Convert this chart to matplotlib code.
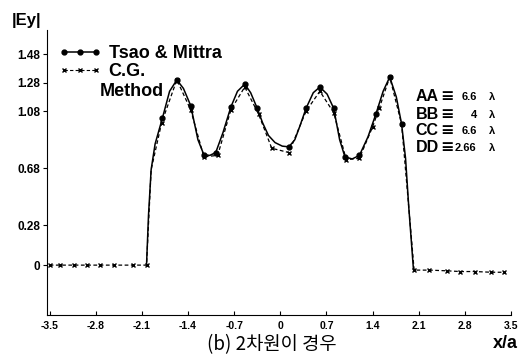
import matplotlib
matplotlib.use("Agg")
import matplotlib.pyplot as plt

plt.rcParams['font.family'] = ['Liberation Sans', 'DejaVu Sans']

# solid curve (Tsao & Mittra)
curva_x = [-2.03, -2.0, -1.96, -1.9, -1.79, -1.68, -1.57, -1.47, -1.36, -1.25, -1.16, -1.07,
           -0.98, -0.87, -0.75, -0.65, -0.54, -0.45, -0.35, -0.27, -0.18, -0.08, 0.03, 0.13,
           0.22, 0.3, 0.39, 0.5, 0.6, 0.71, 0.81, 0.9, 0.98, 1.09, 1.2, 1.33, 1.45, 1.56,
           1.66, 1.76, 1.84, 1.9, 1.95, 2.02]
curva_y = [0.0, 0.35, 0.67, 0.85, 1.03, 1.22, 1.30, 1.24, 1.12, 0.88, 0.775, 0.77,
           0.79, 0.93, 1.11, 1.22, 1.27, 1.21, 1.10, 1.0, 0.91, 0.86, 0.835, 0.83,
           0.88, 0.98, 1.10, 1.21, 1.25, 1.20, 1.10, 0.88, 0.76, 0.745, 0.77, 0.90, 1.06, 1.22,
           1.32, 1.18, 0.99, 0.75, 0.40, -0.03]
# puntos Tsao & Mittra
tsao_x = [-1.79, -1.57, -1.36, -1.16, -0.98, -0.75, -0.54, -0.35, 0.13, 0.39, 0.6, 0.81,
          0.98, 1.2, 1.45, 1.66, 1.84]
tsao_y = [1.03, 1.30, 1.12, 0.775, 0.79, 1.11, 1.27, 1.10, 0.83, 1.10, 1.25, 1.10,
          0.76, 0.77, 1.06, 1.32, 0.99]
# C.G. Method
cg_x = [-3.5, -3.34, -3.13, -2.94, -2.73, -2.52, -2.24, -2.03, -2.03, -1.96, -1.8, -1.57,
        -1.36, -1.16, -0.95, -0.75, -0.54, -0.33, -0.13, 0.13, 0.39, 0.6, 0.81, 1.0, 1.2,
        1.4, 1.5, 1.66, 1.84, 1.95, 2.03, 2.26, 2.53, 2.73, 2.95, 3.2, 3.39]
cg_y = [0.0, 0.0, 0.0, 0.0, 0.0, 0.0, 0.0, 0.0, 0.0, 0.67, 1.0, 1.30,
        1.09, 0.76, 0.77, 1.09, 1.25, 1.06, 0.82, 0.79, 1.08, 1.22, 1.07, 0.74, 0.75,
        0.97, 1.10, 1.32, 0.99, 0.40, -0.035, -0.035, -0.04, -0.045, -0.045, -0.05, -0.05]
cg_marca = [0, 1, 2, 3, 4, 5, 6, 7, 10, 11, 12, 13, 14, 15, 16, 17, 18, 19, 20, 21,
            22, 23, 24, 25, 26, 27, 28, 30, 31, 32, 33, 34, 35, 36]

xticks = [-3.5, -2.8, -2.1, -1.4, -0.7, 0, 0.7, 1.4, 2.1, 2.8, 3.5]
xtick_labels = ["-3.5", "-2.8", "-2.1", "-1.4", "-0.7", "0", "0.7", "1.4", "2.1", "2.8", "3.5"]
yticks = [0, 0.28, 0.68, 1.08, 1.28, 1.48]
ytick_labels = ["0", "0.28", "0.68", "1.08", "1.28", "1.48"]
nombres = ["AA", "BB", "CC", "DD"]
valores = ["6.6", "4", "6.6", "2.66"]
nota_y = [1.183, 1.056, 0.944, 0.824]

fig = plt.figure(figsize=(5.31, 3.55), dpi=100)
ax = fig.add_axes([47/531, 40/355, (511-47)/531, (315-30)/355])

# curvas
ax.plot(curva_x, curva_y, color="black", linewidth=1.1, zorder=3)
ax.plot(tsao_x, tsao_y, linestyle="none", marker="o", markersize=3.5, color="black", zorder=4)
ax.plot(cg_x, cg_y, color="black", linestyle=(0, (3, 2)), linewidth=0.9, marker="x",
        markersize=3, markevery=cg_marca, zorder=3)

# leyenda
h1, = ax.plot([], [], color="black", marker="o", markersize=3.5, linewidth=1.1)
h2, = ax.plot([], [], color="black", marker="x", markersize=3, linewidth=0.8, linestyle=(0, (3, 2)))
ax.legend([h1, h2], ["Tsao & Mittra", "C.G."], loc="upper left",
          bbox_to_anchor=(0.024, 0.947), frameon=False, numpoints=3, handlelength=2.4,
          handletextpad=0.4, labelspacing=0.05, borderpad=0, borderaxespad=0,
          prop={"weight": "bold", "size": 13})
fig.text(100/531, 1 - 91/355, "Method", fontsize=13, fontweight="bold", va="center", ha="left")

for n, v, yy in zip(nombres, valores, nota_y):
    ax.text(2.05, yy, n, fontsize=11.5, fontweight="bold", va="center", ha="left")
    ax.text(2.42, yy, "\u2261", fontsize=11.5, fontweight="bold", va="center", ha="left",
            family="DejaVu Sans")
    ax.text(2.98, yy, v, fontsize=8, fontweight="bold", va="center", ha="right")
    ax.text(3.16, yy, "\u03bb", fontsize=8, fontweight="bold", va="center", ha="left")

ax.set_xlim(-3.54, 3.5)
ax.set_ylim(-0.35, 1.65)
ax.set_xticks(xticks)
ax.set_xticklabels(xtick_labels, fontsize=7.5, fontweight="bold")
ax.set_yticks(yticks)
ax.set_yticklabels(ytick_labels, fontsize=8.5, fontweight="bold")
ax.tick_params(axis="x", direction="in", length=3, pad=4)
ax.tick_params(axis="y", direction="out", length=3, pad=2)
ax.spines["top"].set_visible(False)
ax.spines["right"].set_visible(False)

fig.text(12/531, 1 - 20/355, "|Ey|", fontsize=12, fontweight="bold", va="center", ha="left")
fig.text(493/531, 1 - 343/355, "x/a", fontsize=13, fontweight="bold", va="center", ha="left")
fig.text(272/531, 1 - 345/355, "(b) 2차원이 경우", fontsize=13.5, va="center", ha="center",
         family=["Noto Sans CJK KR", "DejaVu Sans"])

fig.savefig("out.png", dpi=100)
